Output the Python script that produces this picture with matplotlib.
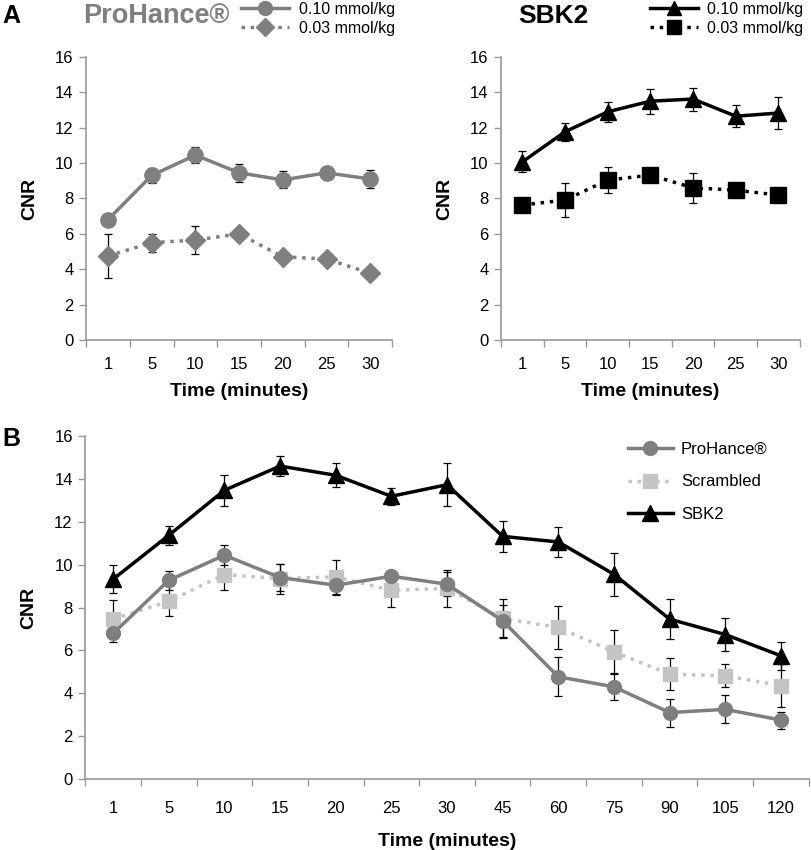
import numpy as np
import matplotlib.pyplot as plt
from matplotlib.lines import Line2D

plt.rcParams['font.family'] = ['Liberation Sans', 'DejaVu Sans']

# panel A data
times_a = ['1', '5', '10', '15', '20', '25', '30']
pro_hi = [6.8, 9.3, 10.45, 9.45, 9.05, 9.45, 9.1]
pro_hi_err = [0.3, 0.4, 0.47, 0.5, 0.48, 0.1, 0.5]
pro_lo = [4.75, 5.5, 5.65, 6.0, 4.7, 4.58, 3.77]
pro_lo_err = [1.24, 0.5, 0.77, 0.1, 0.1, 0.1, 0.1]
sbk_hi = [10.07, 11.77, 12.9, 13.5, 13.62, 12.65, 12.83]
sbk_hi_err = [0.6, 0.5, 0.55, 0.7, 0.65, 0.63, 0.9]
sbk_lo = [7.63, 7.91, 9.04, 9.32, 8.6, 8.47, 8.19]
sbk_lo_err = [0.1, 0.97, 0.72, 0.1, 0.84, 0.1, 0.1]

# panel B data
times_b = ['1', '5', '10', '15', '20', '25', '30', '45', '60', '75', '90', '105', '120']
b_pro = [6.79, 9.27, 10.44, 9.4, 9.04, 9.46, 9.09, 7.38, 4.77, 4.3, 3.1, 3.25, 2.75]
b_pro_err = [0.4, 0.43, 0.46, 0.65, 0.45, 0.1, 0.55, 0.75, 0.9, 0.62, 0.65, 0.65, 0.4]
b_scr = [7.46, 8.29, 9.54, 9.35, 9.43, 8.81, 8.89, 7.49, 7.07, 5.93, 4.89, 4.82, 4.35]
b_scr_err = [0.9, 0.7, 0.7, 0.7, 0.8, 0.8, 0.85, 0.9, 1.0, 1.0, 0.75, 0.55, 1.0]
b_sbk = [9.32, 11.37, 13.47, 14.6, 14.17, 13.19, 13.73, 11.32, 11.06, 9.55, 7.46, 6.74, 5.75]
b_sbk_err = [0.65, 0.45, 0.72, 0.48, 0.57, 0.4, 1.0, 0.72, 0.7, 1.0, 0.92, 0.75, 0.65]

GREY = '#7f7f7f'
LIGHT = '#c4c4c4'
SPINE = '#999999'

fig = plt.figure(figsize=(8.12, 8.5), dpi=100)
ax1 = fig.add_axes([0.106, 0.6, 0.377, 0.333])
ax2 = fig.add_axes([0.617, 0.6, 0.368, 0.333])
ax3 = fig.add_axes([0.105, 0.0835, 0.891, 0.4035])


def style(ax, labels, pad, lpad):
    n = len(labels)
    ax.set_xlim(-0.5, n - 0.5)
    ax.set_ylim(0, 16)
    ax.set_yticks(np.arange(0, 17, 2))
    ax.set_xticks(np.arange(-0.5, n, 1.0))
    ax.set_xticklabels([])
    ax.set_xticks(np.arange(n), minor=True)
    ax.set_xticklabels(labels, minor=True)
    ax.tick_params(axis='x', which='minor', length=0, pad=pad, labelsize=12)
    ax.tick_params(axis='x', which='major', length=5, color=SPINE, width=1)
    ax.tick_params(axis='y', length=5, color=SPINE, width=1, labelsize=12, pad=4)
    for s in ['top', 'right']:
        ax.spines[s].set_visible(False)
    for s in ['left', 'bottom']:
        ax.spines[s].set_color(SPINE)
        ax.spines[s].set_linewidth(1.2)
    ax.set_xlabel('Time (minutes)', fontsize=14, fontweight='bold', labelpad=lpad)
    ax.set_ylabel('CNR', fontsize=14, fontweight='bold', labelpad=12)


def series(ax, vals, err, color, marker, ls, ms, lw=2.5):
    x = np.arange(len(vals))
    ax.errorbar(x, vals, yerr=err, fmt='none', ecolor='black', elinewidth=0.9,
                capsize=3, capthick=0.9, zorder=2)
    ax.plot(x, vals, color=color, marker=marker, ls=ls, lw=lw, ms=ms, zorder=3)


series(ax1, pro_lo, pro_lo_err, GREY, 'D', ':', 10)
series(ax1, pro_hi, pro_hi_err, GREY, 'o', '-', 11)
series(ax2, sbk_lo, sbk_lo_err, 'black', 's', ':', 11)
series(ax2, sbk_hi, sbk_hi_err, 'black', '^', '-', 12)
style(ax1, times_a, 12, 8)
style(ax2, times_a, 12, 8)

series(ax3, b_scr, b_scr_err, LIGHT, 's', ':', 10)
series(ax3, b_pro, b_pro_err, GREY, 'o', '-', 10)
series(ax3, b_sbk, b_sbk_err, 'black', '^', '-', 12)
style(ax3, times_b, 16, 12)

# panel A legends
h_pro = [Line2D([], [], color=GREY, marker='o', ls='-', lw=2.5, ms=10),
         Line2D([], [], color=GREY, marker='D', ls=':', lw=2.5, ms=9)]
h_sbk = [Line2D([], [], color='black', marker='^', ls='-', lw=2.5, ms=10),
         Line2D([], [], color='black', marker='s', ls=':', lw=2.5, ms=10)]
dose = ['0.10 mmol/kg', '0.03 mmol/kg']
leg_kw = dict(loc='upper left', frameon=False, fontsize=11.5, handlelength=3.0,
              handletextpad=0.6, labelspacing=0.25, borderpad=0, borderaxespad=0)
fig.legend(h_pro, dose, bbox_to_anchor=(0.297, 0.998), **leg_kw)
fig.legend(h_sbk, dose, bbox_to_anchor=(0.8, 0.998), **leg_kw)
fig.text(0.102, 0.981, 'ProHance®', color=GREY, fontsize=19.5, fontweight='bold', va='center')
fig.text(0.638, 0.981, 'SBK2', color='black', fontsize=19, fontweight='bold', va='center')
fig.text(0.003, 0.981, 'A', fontsize=18, fontweight='bold', va='center')
fig.text(0.003, 0.483, 'B', fontsize=18, fontweight='bold', va='center')

# panel B legend
h_b = [Line2D([], [], color=GREY, marker='o', ls='-', lw=2.5, ms=10),
       Line2D([], [], color=LIGHT, marker='s', ls=':', lw=2.5, ms=10),
       Line2D([], [], color='black', marker='^', ls='-', lw=2.5, ms=11)]
fig.legend(h_b, ['ProHance®', 'Scrambled', 'SBK2'], loc='upper left',
           bbox_to_anchor=(0.773, 0.480), frameon=False, fontsize=12, borderpad=0,
           borderaxespad=0, handlelength=2.7, handletextpad=0.5, labelspacing=1.05)

fig.savefig('out.png', dpi=100)
